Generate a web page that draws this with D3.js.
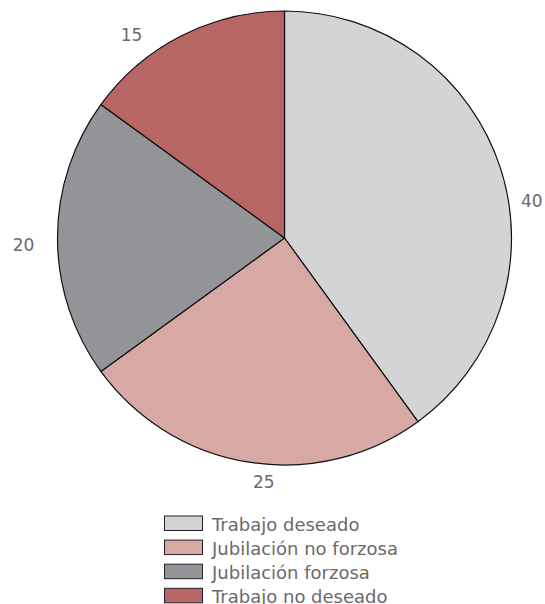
<!DOCTYPE html>
<html>
<head>
<meta charset="utf-8">
<script src="https://cdn.jsdelivr.net/npm/d3@7"></script>
<style>
  html, body { margin: 0; padding: 0; background: #fff; }
  svg { display: block; }
  text { font-family: "DejaVu Sans", sans-serif; fill: #6a6a6a; }
</style>
</head>
<body>
<svg id="chart" width="545" height="604"></svg>
<script>
const categories = ["Trabajo deseado", "Jubilación no forzosa", "Jubilación forzosa", "Trabajo no deseado"];
const values = [40, 25, 20, 15];
const colors = ["#d3d4d6", "#d8a8a4", "#929497", "#b76663"];

const W = 545, H = 604;
const cx = 284.5, cy = 238, R = 227;

const svg = d3.select("#chart");
const data = categories.map((c, i) => ({ name: c, value: values[i], color: colors[i] }));

const pie = d3.pie().value(d => d.value).sort(null);
const arcs = pie(data);
const arc = d3.arc().innerRadius(0).outerRadius(R);

const g = svg.append("g").attr("transform", `translate(${cx},${cy})`);
g.selectAll("path").data(arcs).join("path")
  .attr("d", arc)
  .attr("fill", d => d.data.color)
  .attr("stroke", "#111")
  .attr("stroke-width", 1.2)
  .attr("stroke-linejoin", "round");

// value labels placed outside each slice near its mid-angle (best-fit style)
const labelAngleShift = [0.166, -0.072, -0.025, -0.173];
const labelRadius = [250, 245, 261, 254.6];
g.selectAll("text.val").data(arcs).join("text")
  .attr("class", "val")
  .attr("x", (d, i) => {
    const a = (d.startAngle + d.endAngle) / 2 + labelAngleShift[i];
    return Math.sin(a) * labelRadius[i];
  })
  .attr("y", (d, i) => {
    const a = (d.startAngle + d.endAngle) / 2 + labelAngleShift[i];
    return -Math.cos(a) * labelRadius[i];
  })
  .attr("dy", "0.36em")
  .attr("text-anchor", "middle")
  .attr("font-size", 17)
  .text(d => d.data.value);

// legend
const legend = svg.append("g").attr("transform", "translate(164,515.5)");
const row = legend.selectAll("g").data(data).join("g")
  .attr("transform", (d, i) => `translate(0,${i * 24.1})`);
row.append("rect")
  .attr("x", 0.5).attr("y", 0.5)
  .attr("width", 38).attr("height", 14.5)
  .attr("fill", d => d.color)
  .attr("stroke", "#222").attr("stroke-width", 1);
row.append("text")
  .attr("x", 48).attr("y", 15.5)
  .attr("font-size", 18)
  .text(d => d.name);
</script>
</body>
</html>
